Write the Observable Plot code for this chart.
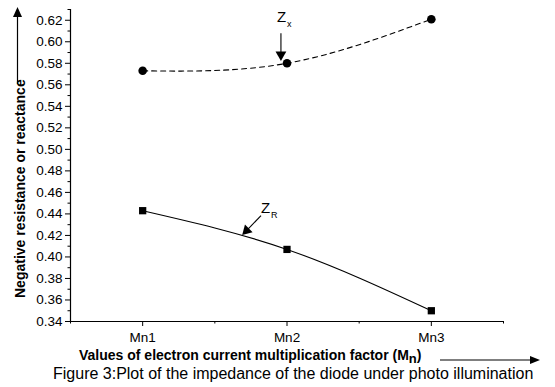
<!DOCTYPE html>
<html>
<head>
<meta charset="utf-8">
<script src="https://cdn.jsdelivr.net/npm/d3@7"></script>
<script src="https://cdn.jsdelivr.net/npm/@observablehq/plot@0.6"></script>
<style>
  html, body { margin: 0; padding: 0; background: #fff; }
  #chart { width: 555px; height: 387px; }
</style>
</head>
<body>
<div id="chart"></div>
<script>
// ---- data ----
const categories = ["Mn1", "Mn2", "Mn3"];
const zxValues = [0.573, 0.580, 0.621];
const zrValues = [0.443, 0.407, 0.350];
const yTicks = [0.34, 0.36, 0.38, 0.40, 0.42, 0.44, 0.46, 0.48, 0.50, 0.52, 0.54, 0.56, 0.58, 0.60, 0.62];
const yMinorTicks = [0.35, 0.37, 0.39, 0.41, 0.43, 0.45, 0.47, 0.49, 0.51, 0.53, 0.55, 0.57, 0.59, 0.61, 0.63];
const xMinorTicks = [0.5, 1.5, 2.5, 3.5];
const yLabel = "Negative resistance or reactance";
const xLabel = "Values of electron current multiplication factor (M";
const xLabelSub = "n";
const caption = "Figure 3:Plot of the impedance of the diode under photo illumination";
const seriesLabels = ["Z", "Z"];
const seriesSubs = ["x", "R"];
// annotation anchors in data units (x = category index + 1)
const labelPos = [{x: 1.93, y: 0.618}, {x: 1.82, y: 0.441}];
const arrowPos = [{x1: 1.958, y1: 0.608, x2: 1.958, y2: 0.588}, {x1: 1.82, y1: 0.4385, x2: 1.72, y2: 0.4245}];

const zx = categories.map((c, i) => ({x: i + 1, y: zxValues[i]}));
const zr = categories.map((c, i) => ({x: i + 1, y: zrValues[i]}));
const labels = labelPos.map((p, i) => ({...p, t: seriesLabels[i], s: seriesSubs[i]}));
const heads = arrowPos.map(a => ({x: a.x2, y: a.y2}));

const W = 555, H = 387, ML = 70, MR = 52, MT = 9, MB = 66;
const FONT = "Arial, 'Liberation Sans', sans-serif";

const svg = Plot.plot({
  width: W, height: H,
  marginLeft: ML, marginRight: MR, marginTop: MT, marginBottom: MB,
  style: {fontFamily: FONT, color: "black", background: "white"},
  x: {domain: [0.5, 3.5], axis: null},
  y: {domain: [0.34, 0.63], axis: null},
  marks: [
    Plot.axisY({ticks: yTicks, tickSize: 5, tickPadding: 3, fontSize: 13.5, tickFormat: d3.format(".2f"), label: null, stroke: "black"}),
    Plot.axisY({ticks: yMinorTicks, tickSize: 2.5, tickFormat: () => "", label: null}),
    Plot.axisX({ticks: [1, 2, 3], tickSize: 5, tickPadding: 6, fontSize: 13.5, tickFormat: d => categories[d - 1], label: null}),
    Plot.axisX({ticks: xMinorTicks, tickSize: 2.5, tickFormat: () => "", label: null}),
    Plot.ruleX([0.5], {stroke: "black", strokeWidth: 1.2}),
    Plot.ruleY([0.34], {stroke: "black", strokeWidth: 1.2}),
    Plot.line(zx, {x: "x", y: "y", curve: "natural", stroke: "black", strokeWidth: 1.1, strokeDasharray: "5,4"}),
    Plot.line(zr, {x: "x", y: "y", curve: "natural", stroke: "black", strokeWidth: 1.1}),
    Plot.dot(zx, {x: "x", y: "y", r: 4.3, fill: "black", symbol: "circle"}),
    Plot.dot(zr, {x: "x", y: "y", r: 4.1, fill: "black", symbol: "square"}),
    Plot.link(arrowPos, {x1: "x1", y1: "y1", x2: "x2", y2: "y2", stroke: "black", strokeWidth: 1.1}),
    Plot.dot([heads[0]], {x: "x", y: "y", r: 4, symbol: "triangle", fill: "black", rotate: 180}),
    Plot.dot([heads[1]], {x: "x", y: "y", r: 4, symbol: "triangle", fill: "black", rotate: 225}),
    Plot.text(labels, {x: "x", y: "y", text: "t", fontSize: 15, textAnchor: "start", lineAnchor: "bottom"}),
    Plot.text(labels, {x: "x", y: "y", text: "s", fontSize: 9, textAnchor: "start", lineAnchor: "bottom", dx: 10, dy: 5})
  ]
});

const s = d3.select(svg);
// y-axis title and arrow
s.append("text")
  .attr("transform", "translate(25,298) rotate(-90)")
  .attr("text-anchor", "start")
  .attr("font-size", 14).attr("font-weight", "bold")
  .attr("font-family", FONT)
  .attr("fill", "black")
  .text(yLabel);
s.append("line").attr("x1", 17.5).attr("x2", 17.5).attr("y1", 84).attr("y2", 15).attr("stroke", "black").attr("stroke-width", 1.2);
s.append("path").attr("d", "M17.5,7 L13,17 L22,17 Z").attr("fill", "black");
// x-axis title and arrow
const xt = s.append("text")
  .attr("x", 79).attr("y", 360)
  .attr("text-anchor", "start")
  .attr("font-size", 14).attr("font-weight", "bold")
  .attr("font-family", FONT)
  .attr("fill", "black");
xt.append("tspan").text(xLabel);
xt.append("tspan").attr("dy", 3).attr("font-size", 13).text(xLabelSub);
xt.append("tspan").attr("dy", -3).text(")");
s.append("line").attr("x1", 440).attr("x2", 531).attr("y1", 360).attr("y2", 360).attr("stroke", "black").attr("stroke-width", 1.2);
s.append("path").attr("d", "M540,360 L530,356 L530,364 Z").attr("fill", "black");
// caption
s.append("text")
  .attr("x", 53).attr("y", 379)
  .attr("text-anchor", "start")
  .attr("font-size", 16)
  .attr("font-family", FONT)
  .attr("fill", "black")
  .text(caption);

document.getElementById("chart").appendChild(svg);
</script>
</body>
</html>
